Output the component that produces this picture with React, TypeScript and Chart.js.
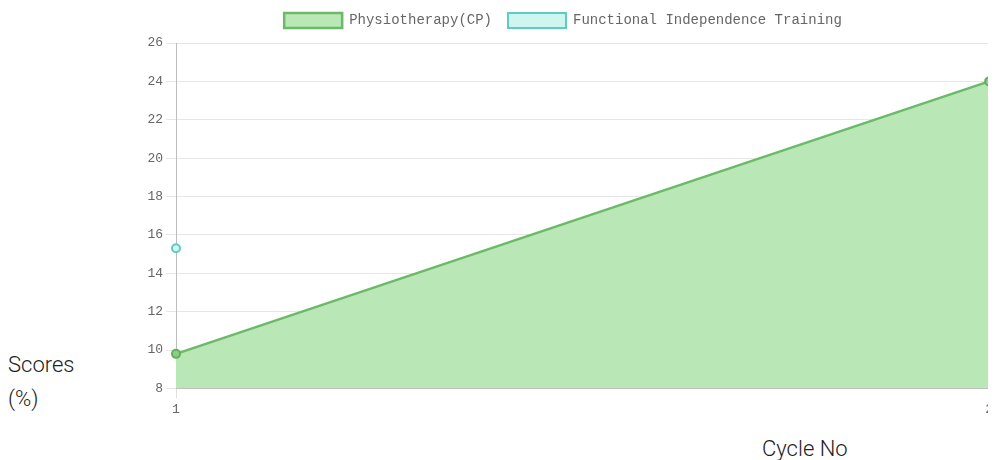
import React, { useEffect, useRef } from "react";
import { Chart, registerables } from "chart.js";

Chart.register(...registerables);

const cycles = ["1", "2"];
const physiotherapy = [9.8, 24];
const functionalTraining = [15.3, null];
const yMin = 8;
const yMax = 26;
const yStep = 2;

const legendGap = {
  id: "legendGap",
  beforeInit(chart: any) {
    const legend = chart.legend;
    if (!legend) return;
    const origFit = legend.fit;
    legend.fit = function () {
      origFit.bind(legend)();
      this.height += 5;
    };
  },
};

export default function App() {
  const ref = useRef<HTMLCanvasElement>(null);
  useEffect(() => {
    if (!ref.current) return;
    const chart = new Chart(ref.current, {
      type: "line",
      data: {
        labels: cycles,
        datasets: [
          {
            label: "Physiotherapy(CP)",
            data: physiotherapy,
            borderColor: "rgb(106,186,104)",
            backgroundColor: "rgba(185,231,181,1)",
            fill: "origin",
            borderWidth: 2.5,
            pointRadius: 4,
            pointBorderWidth: 2,
            pointBackgroundColor: "rgb(140,205,135)",
            pointBorderColor: "rgb(96,176,94)",
            tension: 0,
          },
          {
            label: "Functional Independence Training",
            data: functionalTraining,
            borderColor: "rgb(98,202,194)",
            backgroundColor: "rgba(206,246,240,1)",
            fill: "origin",
            borderWidth: 2,
            pointRadius: 4,
            pointBorderWidth: 2,
            pointBackgroundColor: "rgb(206,246,240)",
            pointBorderColor: "rgb(98,202,194)",
            tension: 0,
          },
        ],
      },
      plugins: [legendGap],
      options: {
        animation: false,
        responsive: false,
        maintainAspectRatio: false,
        layout: { padding: { top: -3, right: 0, left: 0, bottom: 0 } },
        plugins: {
          legend: {
            display: true,
            position: "top",
            labels: {
              boxWidth: 58,
              boxHeight: 15,
              padding: 16,
              color: "#666",
              font: { family: "Liberation Mono", size: 14 },
            },
          },
          tooltip: { enabled: false },
        },
        scales: {
          x: {
            type: "category",
            offset: false,
            grid: { color: "#e0e0e0", tickLength: 10, drawOnChartArea: true },
            border: { color: "#bdbdbd" },
            ticks: {
              autoSkip: false,
              maxRotation: 0,
              color: "#666",
              font: { family: "Liberation Mono", size: 13 },
            },
          },
          y: {
            min: yMin,
            max: yMax,
            ticks: {
              stepSize: yStep,
              color: "#666",
              font: { family: "Liberation Mono", size: 13 },
            },
            grid: { color: "#e6e6e6", tickLength: 10 },
            border: { color: "#bdbdbd" },
            afterFit: (scale: any) => {
              scale.width = 46;
            },
          },
        },
      },
    });
    return () => chart.destroy();
  }, []);

  return (
    <div style={{ position: "relative", width: 988, height: 452, overflow: "hidden" }}>
      <canvas
        ref={ref}
        width={866}
        height={420}
        style={{ position: "absolute", left: 122, top: -8, width: 866, height: 420 }}
      />
      <div
        style={{
          position: "absolute",
          left: 0,
          top: 340,
          width: 80,
          fontFamily: "Roboto",
          fontWeight: 300,
          fontSize: 22,
          lineHeight: "34px",
          color: "#222",
        }}
      >
        Scores (%)
      </div>
      <div
        style={{
          position: "absolute",
          left: 754,
          top: 428,
          fontFamily: "Roboto",
          fontWeight: 300,
          fontSize: 22,
          lineHeight: "26px",
          color: "#222",
        }}
      >
        Cycle No
      </div>
    </div>
  );
}
